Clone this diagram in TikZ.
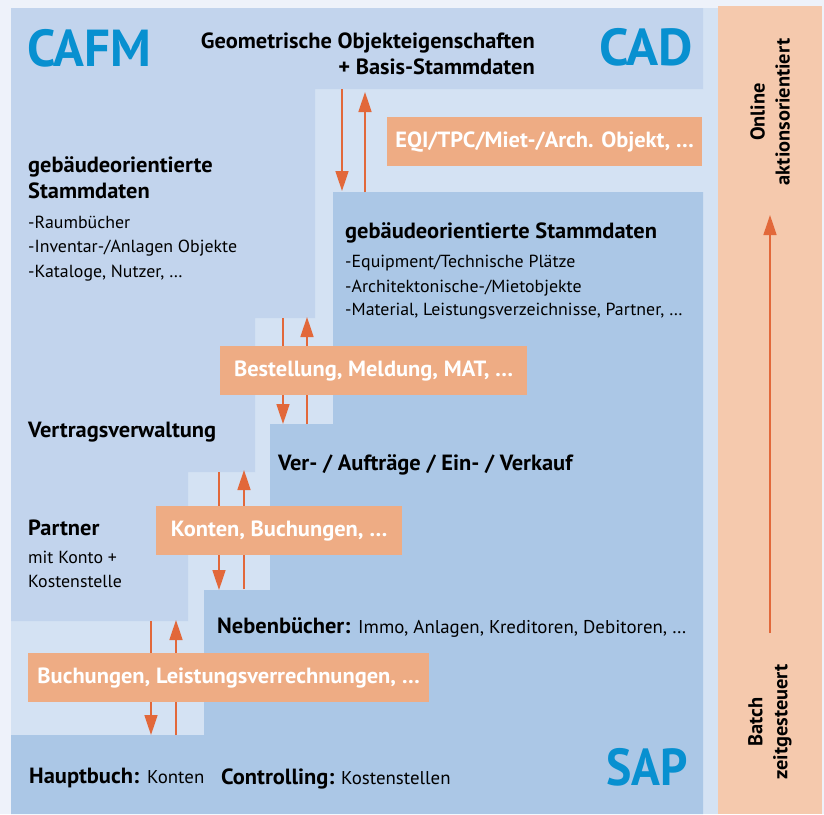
\documentclass[tikz,border=0pt]{standalone}
\usepackage{fontspec}
\setmainfont{PT Sans}[FakeStretch=1.02]
\usetikzlibrary{arrows.meta}
\definecolor{bgout}{HTML}{EEF2FA}
\definecolor{lightb}{HTML}{D4E2F3}
\definecolor{midb}{HTML}{C2D4ED}
\definecolor{darkb}{HTML}{ABC7E6}
\definecolor{oboxc}{HTML}{EEAC84}
\definecolor{ostrip}{HTML}{F5C9AD}
\definecolor{arr}{HTML}{E2683A}
\definecolor{logo}{HTML}{0890D0}
\tikzset{
  obox/.style={fill=oboxc, text=white, font=\bfseries\fontsize{22}{26}\selectfont, inner sep=0pt, minimum height=49pt, anchor=north west},
  head/.style={font=\bfseries\fontsize{22}{26}\selectfont, inner sep=0pt, anchor=base west, text=black},
  sub/.style={font=\fontsize{17.5}{21}\selectfont, inner sep=0pt, anchor=base west, text=black},
  subb/.style={font=\fontsize{18.5}{22}\selectfont, inner sep=0pt, anchor=base west, text=black},
  logotxt/.style={font=\bfseries\fontsize{52}{56}\selectfont, inner sep=0pt, anchor=base west, text=logo},
  flow/.style={draw=arr, line width=1.6pt, -{Triangle[width=13pt,length=20pt]}},
  side/.style={font=\bfseries\fontsize{20}{25}\selectfont, inner sep=0pt, rotate=90, align=center, text=black}
}
\begin{document}
\begin{tikzpicture}[x=1pt,y=-1pt]
\useasboundingbox (0,0) rectangle (824,814);
\fill[bgout] (0,0) rectangle (824,814);
\fill[lightb] (11,8) rectangle (718,814);
\fill[ostrip] (718,6) rectangle (822,814);
% CAFM region
\fill[midb] (11,8) -- (703,8) -- (703,89) -- (315,89) -- (315,318) -- (255,318) -- (255,472) -- (188,472) -- (188,621) -- (11,621) -- cycle;
% SAP region
\fill[darkb] (333,192) -- (703,192) -- (703,814) -- (11,814) -- (11,735) -- (204,735) -- (204,590) -- (270,590) -- (270,424) -- (333,424) -- cycle;

% logos
\node[logotxt] (cafm) at (27,66) {\scalebox{0.96}[1]{CAFM}};
\node[logotxt] (cad) at (599,65) {CAD};
\node[logotxt] (sap) at (606,785) {\scalebox{0.9}[1]{SAP}};

% top text
\node[head, anchor=base east] (geo1) at (535,48) {Geometrische Objekteigenschaften};
\node[head, anchor=base east] (geo2) at (535,74) {+ Basis-Stammdaten};

% left CAFM texts
\node[head] (gl1) at (28,172) {gebäudeorientierte};
\node[head] (gl2) at (28,198) {Stammdaten};
\node[sub] (gl3) at (28,228) {-Raumbücher};
\node[sub] (gl4) at (28,252) {-Inventar-/Anlagen Objekte};
\node[sub] (gl5) at (28,277) {-Kataloge, Nutzer, …};
\node[head] (vv) at (28,437) {Vertragsverwaltung};
\node[head] (pa1) at (28,535) {Partner};
\node[sub] (pa2) at (28,563) {mit Konto +};
\node[sub] (pa3) at (28,587) {Kostenstelle};

% SAP texts
\node[head] (gr1) at (345,238) {gebäudeorientierte Stammdaten};
\node[sub] (gr2) at (345,267) {-Equipment/Technische Plätze};
\node[sub] (gr3) at (345,292) {-Architektonische-/Mietobjekte};
\node[sub] (gr4) at (345,315) {-Material, Leistungsverzeichnisse, Partner, …};
\node[head] (va) at (278,470) {Ver- / Aufträge / Ein- / Verkauf};
\node[head] (nb) at (217,633) {Nebenbücher:};
\node[subb] (nb2) at (358,633) {Immo, Anlagen, Kreditoren, Debitoren, …};
\node[head] (hb) at (29,783) {Hauptbuch:};
\node[subb] (hb2) at (147,783) {Konten};
\node[head] (co) at (221,784) {Controlling:};
\node[subb] (co2) at (341,784) {Kostenstellen};

% arrows
\coordinate (a1t) at (342,89);  \coordinate (a1b) at (342,191);
\coordinate (b1t) at (365,92);  \coordinate (b1b) at (365,192);
\draw[flow] (a1t) -- (a1b);
\draw[flow] (b1b) -- (b1t);
\coordinate (a2t) at (283,318); \coordinate (a2b) at (283,424);
\coordinate (b2t) at (307,317); \coordinate (b2b) at (307,424);
\draw[flow] (a2t) -- (a2b);
\draw[flow] (b2b) -- (b2t);
\coordinate (a3t) at (219,472); \coordinate (a3b) at (219,590);
\coordinate (b3t) at (244,470); \coordinate (b3b) at (244,589);
\draw[flow] (a3t) -- (a3b);
\draw[flow] (b3b) -- (b3t);
\coordinate (a4t) at (151,621); \coordinate (a4b) at (151,735);
\coordinate (b4t) at (176,620); \coordinate (b4b) at (176,735);
\draw[flow] (a4t) -- (a4b);
\draw[flow] (b4b) -- (b4t);

% orange boxes
\node[obox, minimum width=315pt] (eqi) at (387,117) {EQI/TPC/Miet-/Arch. Objekt, …};
\node[obox, minimum width=307pt] (best) at (220,346) {Bestellung, Meldung, MAT, …};
\node[obox, minimum width=246pt] (kont) at (156,506) {Konten, Buchungen, …};
\node[obox, minimum width=401pt] (buch) at (28,653) {Buchungen, Leistungsverrechnungen, …};

% side strip
\coordinate (sb) at (770,633); \coordinate (st) at (770,215);
\draw[flow, line width=1.4pt] (sb) -- (st);
\node[side] (onl) at (770,112) {Online\\aktionsorientiert};
\node[side] (bat) at (770,722) {Batch\\zeitgesteuert};
\end{tikzpicture}
\end{document}
